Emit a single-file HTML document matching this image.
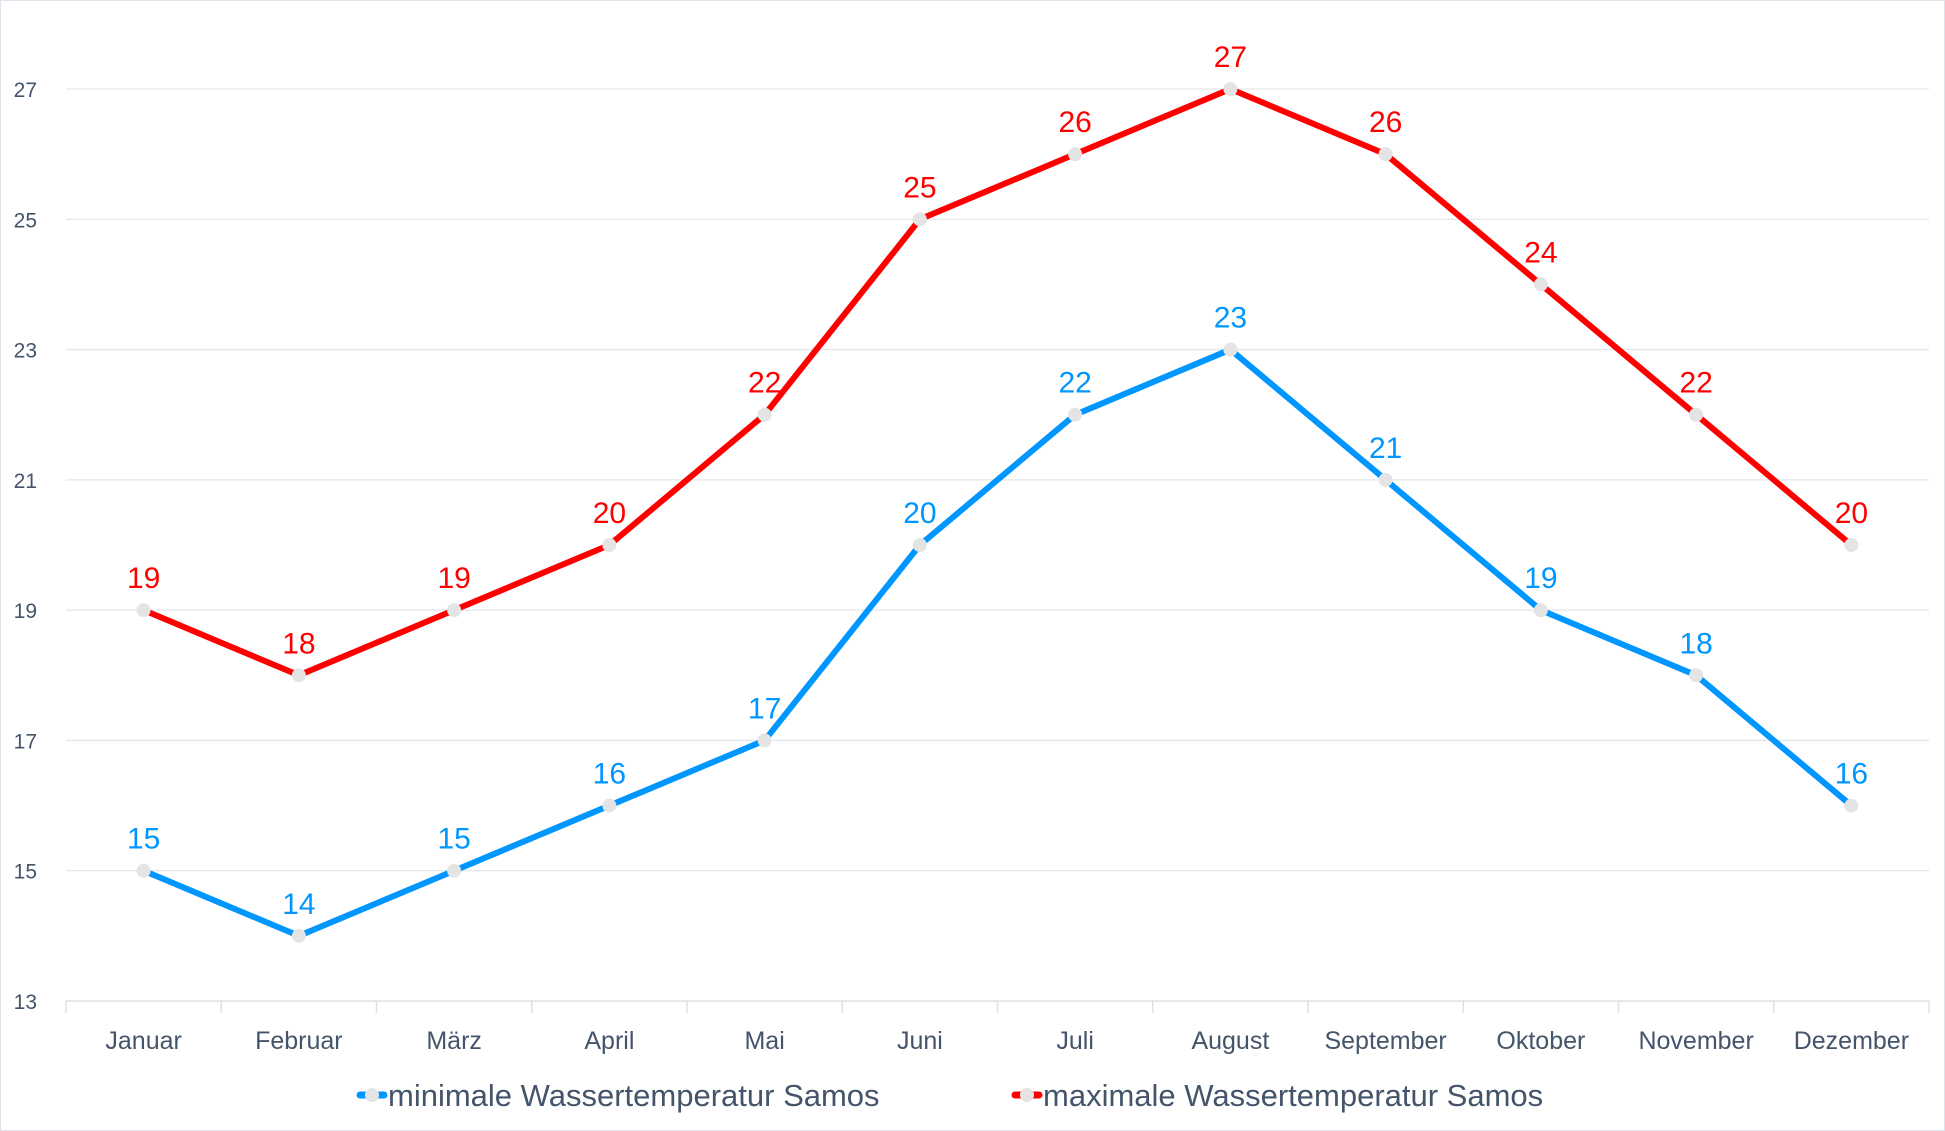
<!DOCTYPE html>
<html><head><meta charset="utf-8"><style>
html,body{margin:0;padding:0;background:#fff}
svg{display:block;font-family:"Liberation Sans",sans-serif}
</style></head><body>
<svg id="chart" width="1945" height="1131" viewBox="0 0 1945 1131">
<rect x="0.5" y="0.5" width="1944" height="1130" fill="#fff" stroke="#dde3ea"/>
<g id="grid"></g><g id="axes"></g><g id="series"></g>
<g font-size="31" fill="#44546a">
 <g>
  <line x1="360" y1="1095" x2="384" y2="1095" stroke="#0096ff" stroke-width="7" stroke-linecap="round"/>
  <circle cx="372" cy="1095" r="7" fill="#e4e4e4"/>
  <text x="388" y="1106">minimale Wassertemperatur Samos</text>
 </g>
 <g>
  <line x1="1015" y1="1095" x2="1039" y2="1095" stroke="#ff0000" stroke-width="7" stroke-linecap="round"/>
  <circle cx="1027" cy="1095" r="7" fill="#e4e4e4"/>
  <text x="1043" y="1106">maximale Wassertemperatur Samos</text>
 </g>
</g>
</svg>
<script>
const categories=["Januar","Februar","März","April","Mai","Juni","Juli","August","September","Oktober","November","Dezember"];
const minTemps=[15,14,15,16,17,20,22,23,21,19,18,16];
const maxTemps=[19,18,19,20,22,25,26,27,26,24,22,20];
const yTicks=[13,15,17,19,21,23,25,27];
const NS="http://www.w3.org/2000/svg";
const L=66,R=1929,T=89,B=1001,yMin=13,yMax=27;
const bw=(R-L)/categories.length;
const x=i=>L+bw*(i+0.5);
const y=v=>B-(v-yMin)/(yMax-yMin)*(B-T);
function mk(p,tag,a){const e=document.createElementNS(NS,tag);for(const k in a)e.setAttribute(k,a[k]);p.appendChild(e);return e;}
const grid=document.getElementById('grid'),axes=document.getElementById('axes'),ser=document.getElementById('series');
yTicks.forEach(t=>{
 if(t!==yMin){const g=mk(grid,'line',{x1:L,x2:R,y1:y(t),y2:y(t),stroke:'#e3e6ea','stroke-width':1.3});
 
 }
 const lb=mk(axes,'text',{x:37,y:y(t)+8,'text-anchor':'end','font-size':21,fill:'#44546a'});lb.textContent=t;
 
 
});
const ax=mk(axes,'line',{x1:L,x2:R,y1:B,y2:B,stroke:'#dde1e6','stroke-width':1.5});


for(let i=0;i<=categories.length;i++){const tk=mk(axes,'line',{x1:L+bw*i,x2:L+bw*i,y1:B,y2:B+12,stroke:'#dde1e6','stroke-width':1.5});
 
 }
categories.forEach((c,i)=>{const t=mk(axes,'text',{x:x(i),y:1049,'text-anchor':'middle','font-size':25,fill:'#44546a'});t.textContent=c;
 
 });
function draw(data,color,name){
 const g=mk(ser,'g',{});
 
 
 const p=mk(g,'polyline',{points:data.map((v,i)=>x(i)+','+y(v)).join(' '),fill:'none',stroke:color,'stroke-width':6,'stroke-linejoin':'round'});
 
 
 data.forEach((v,i)=>{
  const c=mk(g,'circle',{cx:x(i),cy:y(v),r:7,fill:'#e4e4e4'});
  
  
  const t=mk(g,'text',{x:x(i),y:y(v)-22,'text-anchor':'middle','font-size':30,fill:color});t.textContent=v;
  
  
 });
}
draw(maxTemps,'#ff0000','max-series');
draw(minTemps,'#0096ff','min-series');
</script>
</body></html>
